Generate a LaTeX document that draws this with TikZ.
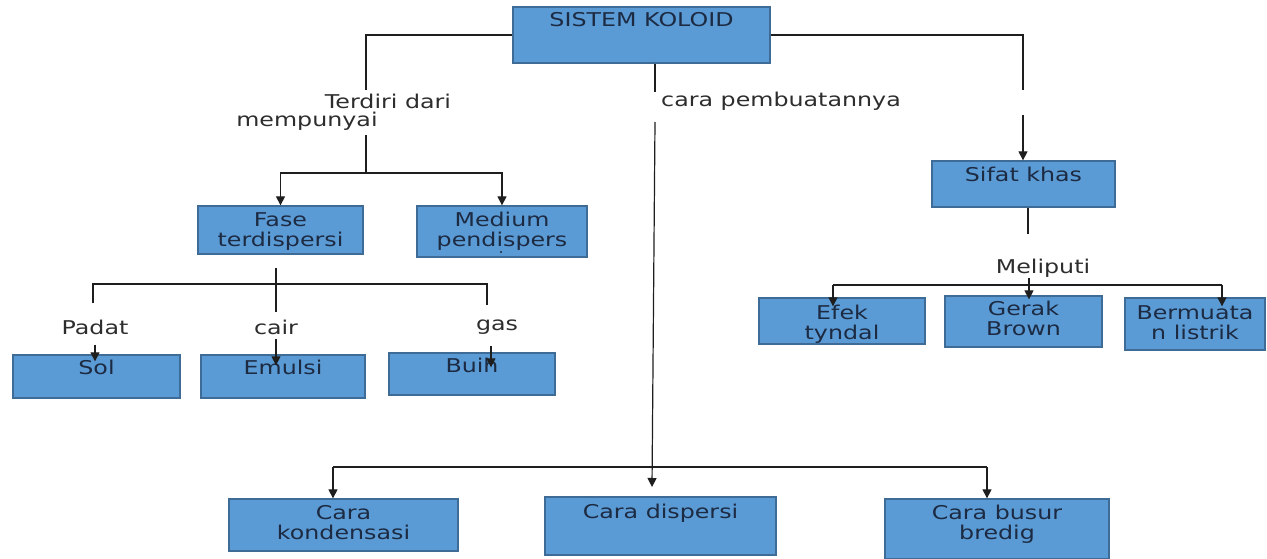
\documentclass[tikz,border=0pt]{standalone}
\usepackage{fontspec}
\setmainfont{DejaVu Sans}[FakeStretch=1.25]
\usetikzlibrary{arrows.meta}
\definecolor{boxfill}{RGB}{91,155,213}
\definecolor{boxline}{RGB}{62,108,150}
\definecolor{boxtext}{RGB}{28,42,66}
\definecolor{lbltext}{RGB}{45,45,45}
\definecolor{wirecol}{RGB}{30,30,30}
\begin{document}
\begin{tikzpicture}[x=1pt,y=-1pt,
  box/.style={draw=boxline,fill=boxfill,line width=1.3pt,inner sep=0pt},
  txt/.style={anchor=north,inner sep=0pt,align=center,text=boxtext,
    font=\fontsize{19}{20}\selectfont},
  lbl/.style={inner sep=0pt,text=lbltext,font=\fontsize{19}{20}\selectfont},
  wire/.style={draw=wirecol,line width=1.2pt},
  arr/.style={wire,-{Triangle[width=9pt,length=9pt]}},
  into/.style={shorten >=-#1},into/.default=8pt]
\useasboundingbox (0,0) rectangle (1267,559);

% Boxes
\node[box,minimum width=257pt,minimum height=56pt] (koloid) at (641.5,35) {};
\node[box,minimum width=165pt,minimum height=48pt] (fase) at (280.5,230) {};
\node[box,minimum width=170pt,minimum height=51pt] (medium) at (502,231.5) {};
\node[box,minimum width=167pt,minimum height=43pt] (sol) at (96.5,376.5) {};
\node[box,minimum width=164pt,minimum height=43pt] (emulsi) at (283,376.5) {};
\node[box,minimum width=166pt,minimum height=42pt] (buih) at (472,374) {};
\node[box,minimum width=183pt,minimum height=46pt] (sifat) at (1023.5,184) {};
\node[box,minimum width=166pt,minimum height=46pt] (efek) at (842,321) {};
\node[box,minimum width=157pt,minimum height=51pt] (gerak) at (1023.5,321.5) {};
\node[box,minimum width=140pt,minimum height=52pt] (muatan) at (1195,324) {};
\node[box,minimum width=229pt,minimum height=52pt] (kondensasi) at (343.5,525) {};
\node[box,minimum width=231pt,minimum height=58pt] (dispersi) at (660.5,526) {};
\node[box,minimum width=224pt,minimum height=60pt] (busur) at (997,529) {};

% Box texts
\node[txt] (koloid-t) at ([yshift=-6pt]koloid.north) {SISTEM KOLOID};
\node[txt] (fase-t) at ([yshift=-7pt]fase.north) {Fase\\terdispersi};
\node[txt] (medium-t) at ([yshift=-7pt]medium.north) {Medium\\pendispers};
\fill[boxtext] (501,252) circle (1.1pt);
\node[txt] (sol-t) at ([yshift=-6pt]sol.north) {Sol};
\node[txt] (emulsi-t) at ([yshift=-6pt]emulsi.north) {Emulsi};
\node[txt] (buih-t) at ([yshift=-6pt]buih.north) {Buih};
\node[txt] (sifat-t) at ([yshift=-7pt]sifat.north) {Sifat khas};
\node[txt] (efek-t) at ([yshift=-8pt]efek.north) {Efek\\tyndal};
\node[txt] (gerak-t) at ([yshift=-6pt]gerak.north) {Gerak\\Brown};
\node[txt] (muatan-t) at ([yshift=-8pt]muatan.north) {Bermuata\\n listrik};
\node[txt] (kondensasi-t) at ([yshift=-7pt]kondensasi.north) {Cara\\kondensasi};
\node[txt] (dispersi-t) at ([yshift=-8pt]dispersi.north) {Cara dispersi};
\node[txt] (busur-t) at ([yshift=-7pt]busur.north) {Cara busur\\bredig};

% Labels
\node[lbl] (terdiri) at (388,101) {Terdiri dari};
\node[lbl] (mempunyai) at (307,121) {mempunyai};
\node[lbl] (cara) at (781,101) {cara pembuatannya};
\node[lbl] (padat) at (95,327) {Padat};
\node[lbl] (cair) at (276,327) {cair};
\node[lbl] (gas) at (497,327) {gas};
\node[lbl] (meliputi) at (1043,268) {Meliputi};

% Left branch
\coordinate (tl-top) at (366,90);
\coordinate (tl-bot) at (366,135);
\coordinate (fork1) at (366,173);
\draw[wire] (koloid.west) -| (tl-top);
\draw[wire] (tl-bot) -- (fork1);
\draw[arr] (fork1) -| (fase.north);
\draw[arr] (fork1) -| (medium.north);

% Phases of the dispersed part
\coordinate (fase-top) at (276,268);
\coordinate (fase-bot) at (276,312);
\coordinate (fork2-l) at (93,284);
\coordinate (fork2-r) at (487,284);
\draw[wire] (fase-top) -- (fase-bot);
\draw[wire] (fork2-l) ++(0,19) |- (fork2-r) -- ++(0,21);
\draw[arr,shorten <=10pt,into=7pt] (padat.south) -- (padat.south |- sol.north);
\draw[arr,shorten <=4pt,into=11pt] (cair.south) -- (cair.south |- emulsi.north);
\draw[arr,shorten <=12pt,into=15pt] ([xshift=-6pt]gas.south) -- ([xshift=-6pt]gas.south |- buih.north);

% Middle branch
\coordinate (cara-top) at (655,92);
\coordinate (cara-bot) at (655,122);
\coordinate (cara-tip) at (652,487);
\draw[wire] (koloid.south -| cara-top) -- (cara-top);
\draw[arr] (cara-bot) -- (cara-tip);
\coordinate (fork3-l) at (333,467);
\coordinate (fork3-r) at (987,467);
\draw[wire] (fork3-l) -- (fork3-r);
\draw[arr] (fork3-l) -- (fork3-l |- kondensasi.north);
\draw[arr] (fork3-r) -- (fork3-r |- busur.north);

% Right branch
\coordinate (sifat-a) at (1023,90);
\coordinate (sifat-b) at (1023,115);
\draw[wire] (koloid.east) -| (sifat-a);
\draw[arr] (sifat-b) -- (sifat-b |- sifat.north);
\draw[wire] ([xshift=4.5pt]sifat.south) -- ++(0,26);
\coordinate (fork4-l) at (833,285);
\coordinate (fork4-r) at (1222,285);
\coordinate (mel-a) at (1029,278);
\draw[wire] (fork4-l) -- (fork4-r);
\draw[arr,into=9pt] (fork4-l) -- (fork4-l |- efek.north);
\draw[arr,into=9pt] (fork4-r) -- (fork4-r |- muatan.north);
\draw[arr,into=4pt] (mel-a) -- (mel-a |- gerak.north);
\end{tikzpicture}
\end{document}
